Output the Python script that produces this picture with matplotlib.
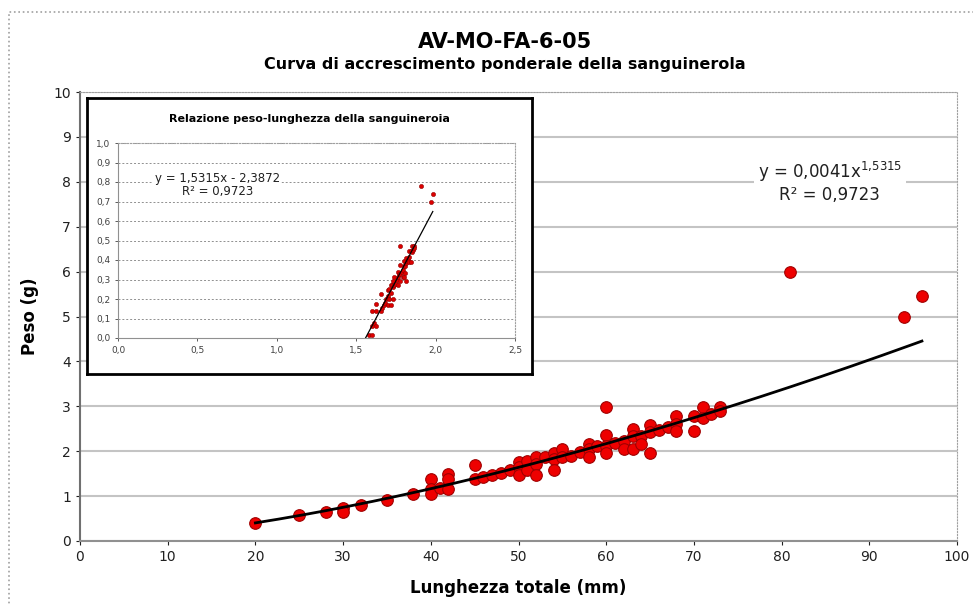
import numpy as np
import matplotlib
matplotlib.use('Agg')
import matplotlib.pyplot as plt
from matplotlib.patches import Rectangle

plt.rcParams['font.family'] = ['DejaVu Sans']
plt.rcParams['mathtext.default'] = 'regular'

# lunghezza totale (mm) e peso (g)
lunghezza = [20, 25, 28, 30, 30, 32, 35, 38,
             40, 40, 40, 41, 42, 42, 42, 45, 45, 46, 47, 48, 49,
             50, 50, 50, 51, 51, 52, 52, 52, 53, 54, 54, 54, 55, 55, 56, 57,
             58, 58, 58, 59, 60, 60, 60, 60, 61, 62, 62, 63, 63, 63, 64, 64,
             65, 65, 65, 66, 67, 68, 68, 68, 70, 70, 71, 71, 72, 73, 73,
             81, 94, 96]
peso = [0.40, 0.57, 0.65, 0.73, 0.65, 0.80, 0.92, 1.04,
        1.38, 1.15, 1.04, 1.19, 1.50, 1.38, 1.15, 1.69, 1.38, 1.42, 1.47, 1.52, 1.58,
        1.76, 1.64, 1.47, 1.79, 1.58, 1.88, 1.71, 1.47, 1.86, 1.97, 1.82, 1.58, 2.06, 1.88, 1.90, 1.99,
        2.17, 2.05, 1.86, 2.12, 2.98, 2.37, 2.12, 1.95, 2.19, 2.23, 2.05, 2.49, 2.34, 2.05, 2.34, 2.16,
        2.58, 2.42, 1.97, 2.47, 2.53, 2.79, 2.60, 2.46, 2.79, 2.46, 2.98, 2.75, 2.83, 2.98, 2.89,
        6.00, 5.00, 5.45]

# coefficienti della linea di tendenza (potenza), come nel grafico
coef_a = 0.0041
coef_b = 1.5315

x = np.array(lunghezza, dtype=float)
y = np.array(peso, dtype=float)

fig = plt.figure(figsize=(9.73, 6.04), dpi=100)

# bordo tratteggiato dell'area del grafico
fig.patches.append(Rectangle((9 / 973, -0.05), 1.05, 1 - 12 / 604 + 0.05,
                             transform=fig.transFigure, fill=False,
                             edgecolor='#a0a0a0', linestyle=':', linewidth=1.2))

# grafico principale
ax = fig.add_axes([80 / 973, (604 - 541) / 604, (957 - 80) / 973, (541 - 92) / 604])
ax.scatter(x, y, s=70, color='#ee0000', edgecolor='#a00000', linewidth=0.8, zorder=3)
xf = np.linspace(x.min(), x.max(), 200)
ax.plot(xf, coef_a * xf ** coef_b, color='black', linewidth=2, zorder=4)

ax.set_xlim(0, 100)
ax.set_ylim(0, 10)
ax.set_xticks(np.arange(0, 101, 10))
ax.set_yticks(np.arange(0, 11, 1))
ax.yaxis.grid(True, color='#c4c4c4', linewidth=1.5)
ax.set_axisbelow(True)
ax.tick_params(labelsize=10, colors='#202020', length=3, width=0.8)
for s in ['top', 'right']:
    ax.spines[s].set_color('#a0a0a0')
    ax.spines[s].set_linestyle(':')
ax.spines['left'].set_color('#707070')
ax.spines['left'].set_linewidth(1.5)
ax.spines['bottom'].set_color('#909090')
ax.spines['bottom'].set_linewidth(1.5)
ax.set_xlabel('Lunghezza totale (mm)', fontsize=12, fontweight='bold', labelpad=11)
ax.set_ylabel('Peso (g)', fontsize=12, fontweight='bold', labelpad=10)

# equazione della linea di tendenza
ax.text(0.855, 0.8, 'y = 0,0041x$^{1{,}5315}$\nR² = 0,9723', transform=ax.transAxes,
        ha='center', va='center', fontsize=12, color='#202020', linespacing=1.15,
        bbox=dict(facecolor='white', edgecolor='none', pad=3), zorder=5)

fig.text(505 / 973, 1 - 42 / 604, 'AV-MO-FA-6-05', ha='center', va='center',
         fontsize=15, fontweight='bold')
fig.text(505 / 973, 1 - 65 / 604, 'Curva di accrescimento ponderale della sanguinerola',
         ha='center', va='center', fontsize=11.5, fontweight='bold')

# riquadro del grafico inserito
box = fig.add_axes([87 / 973, (604 - 374) / 604, (532 - 87) / 973, (374 - 98) / 604])
box.set_xticks([])
box.set_yticks([])
box.set_facecolor('white')
for s in box.spines.values():
    s.set_color('black')
    s.set_linewidth(2)
box.text(0.5, 0.925, 'Relazione peso-lunghezza della sanguineroia', transform=box.transAxes,
         ha='center', va='center', fontsize=8, fontweight='bold')

ins = fig.add_axes([118 / 973, (604 - 338) / 604, (515 - 118) / 973, (338 - 143) / 604])
lx = np.log10(x)
ly = np.log10(y)
ins.scatter(lx, ly, s=9, color='#dd0000', edgecolor='#900000', linewidth=0.4, zorder=3)
lf = np.linspace(lx.min(), lx.max(), 100)
ins.plot(lf, coef_b * lf + np.log10(coef_a), color='black', linewidth=0.9, zorder=4)
ins.set_xlim(0, 2.5)
ins.set_ylim(0, 1.0)
ins.set_xticks(np.arange(0, 2.51, 0.5))
ins.set_yticks(np.arange(0, 1.01, 0.1))
ins.set_xticklabels([f'{v:.1f}'.replace('.', ',') for v in np.arange(0, 2.51, 0.5)])
ins.set_yticklabels([f'{v:.1f}'.replace('.', ',') for v in np.arange(0, 1.01, 0.1)])
ins.yaxis.grid(True, color='#909090', linestyle=(0, (2, 2)), linewidth=0.7)
ins.set_axisbelow(True)
ins.tick_params(labelsize=6.5, colors='#404040', length=2, width=0.6)
for s in ['top', 'right']:
    ins.spines[s].set_color('#a0a0a0')
    ins.spines[s].set_linestyle(':')
ins.spines['left'].set_color('#909090')
ins.spines['bottom'].set_color('#909090')
ins.text(0.25, 0.785, 'y = 1,5315x - 2,3872\nR² = 0,9723', transform=ins.transAxes,
         ha='center', va='center', fontsize=8.5, color='#202020', linespacing=1.0,
         bbox=dict(facecolor='white', edgecolor='none', pad=1), zorder=5)

fig.savefig('out.png', dpi=100)
